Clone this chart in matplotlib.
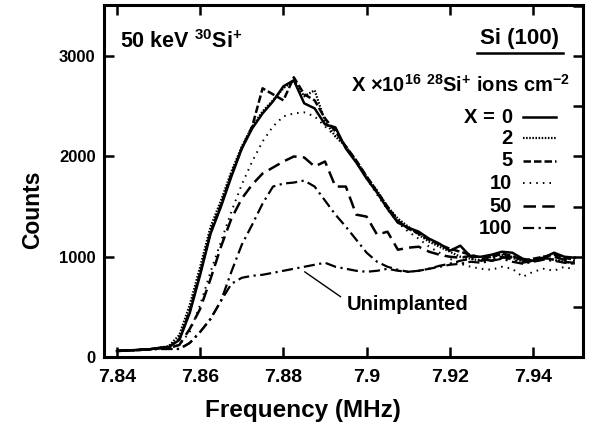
import matplotlib
matplotlib.use("Agg")
import matplotlib.pyplot as plt
import numpy as np

plt.rcParams['font.family'] = ['Liberation Sans', 'DejaVu Sans']
plt.rcParams['font.weight'] = 'bold'
plt.rcParams['mathtext.fontset'] = 'custom'
plt.rcParams['mathtext.rm'] = 'Liberation Sans:bold'
plt.rcParams['mathtext.it'] = 'Liberation Sans:bold'
plt.rcParams['mathtext.bf'] = 'Liberation Sans:bold'

freq = [7.840, 7.8425, 7.845, 7.8475, 7.850, 7.8525, 7.855, 7.8575, 7.860, 7.8625,
        7.865, 7.8675, 7.870, 7.8725, 7.875, 7.8775, 7.880, 7.8825, 7.885, 7.8875,
        7.890, 7.8925, 7.895, 7.8975, 7.900, 7.9025, 7.905, 7.9075, 7.910, 7.9125,
        7.915, 7.9175, 7.920, 7.9225, 7.925, 7.9275, 7.930, 7.9325, 7.935, 7.9375,
        7.940, 7.9425, 7.945, 7.9475, 7.950]

x0 = [60, 65, 70, 75, 90, 100, 170, 440, 820, 1230,
      1500, 1800, 2080, 2280, 2430, 2550, 2700, 2760, 2530, 2480,
      2320, 2290, 2080, 1940, 1780, 1640, 1480, 1340, 1290, 1250,
      1180, 1130, 1060, 1110, 1000, 1000, 1020, 1050, 1040, 980,
      960, 990, 1040, 1000, 990]
x2 = [60, 65, 70, 75, 90, 110, 220, 520, 900, 1300,
      1560, 1850, 2100, 2300, 2450, 2560, 2680, 2760, 2600, 2660,
      2350, 2200, 2100, 1960, 1800, 1660, 1500, 1380, 1300, 1220,
      1150, 1100, 1050, 1000, 980, 960, 1000, 1020, 990, 950,
      960, 1000, 970, 950, 930]
x5 = [60, 65, 70, 75, 90, 100, 180, 460, 840, 1250,
      1520, 1820, 2080, 2300, 2680, 2620, 2560, 2790, 2620, 2560,
      2380, 2250, 2100, 1960, 1800, 1650, 1500, 1360, 1280, 1230,
      1170, 1120, 1080, 1050, 1020, 990, 1000, 1030, 1010, 960,
      980, 1000, 1020, 990, 970]
x10 = [60, 65, 70, 75, 85, 95, 120, 250, 520, 850,
       1150, 1450, 1720, 1950, 2150, 2300, 2400, 2430, 2440, 2400,
       2300, 2200, 2100, 1950, 1780, 1620, 1470, 1340, 1250, 1180,
       1100, 1040, 980, 930, 900, 880, 870, 900, 880, 800,
       850, 880, 860, 900, 870]
x50 = [60, 65, 70, 75, 85, 90, 120, 280, 480, 780,
       1100, 1380, 1580, 1720, 1830, 1890, 1950, 2000, 1990, 1900,
       1950, 1700, 1700, 1420, 1400, 1220, 1250, 1070, 1090, 1100,
       1050, 1020, 1000, 990, 1010, 980, 960, 990, 1000, 970,
       950, 980, 1000, 970, 960]
x100 = [60, 65, 70, 75, 80, 80, 80, 140, 250, 380,
        560, 850, 1120, 1320, 1530, 1700, 1730, 1740, 1760, 1700,
        1560, 1420, 1300, 1170, 1040, 950, 900, 870, 850, 860,
        880, 900, 920, 930, 950, 940, 960, 980, 950, 930,
        950, 970, 960, 940, 930]
unimpl = [60, 65, 70, 75, 80, 80, 80, 140, 250, 380,
          560, 730, 790, 810, 820, 840, 860, 880, 900, 920,
          940, 900, 880, 860, 850, 860, 880, 860, 850, 860,
          880, 910, 930, 960, 980, 960, 980, 1000, 970, 940,
          960, 990, 970, 950, 940]

labels = ['0', '2', '5', '10', '50', '100']
series = [x0, x2, x5, x10, x50, x100]
styles = ['-', (0, (0.7, 0.7)), (0, (3, 1.2)), (0, (0.8, 2.6)), (0, (5, 2.5)), (0, (5, 2, 1, 2))]
widths = [1.8, 1.6, 1.8, 1.4, 1.8, 1.6]

xticks = [7.84, 7.86, 7.88, 7.90, 7.92, 7.94]
xticklabels = ['7.84', '7.86', '7.88', '7.9', '7.92', '7.94']
yticks = [0, 1000, 2000, 3000]

fig = plt.figure(figsize=(5.95, 4.25), dpi=100)
ax = fig.add_axes([0.1748, 0.16, 0.8052, 0.828])

for vals, ls, lw in zip(series, styles, widths):
    ax.plot(freq, vals, color='black', linestyle=ls, linewidth=lw)
ax.plot(freq, unimpl, color='black', linestyle=(0, (5, 2, 1, 2)), linewidth=1.6)

ax.set_xlim(7.8369, 7.952)
ax.set_ylim(0, 3510)
ax.set_xticks(xticks)
ax.set_xticklabels(xticklabels)
ax.set_yticks(yticks)
ax.tick_params(axis='both', direction='in', length=7, width=1.8)
ax.tick_params(axis='x', labelsize=14, pad=9)
ax.tick_params(axis='y', labelsize=12, pad=6)
for s in ax.spines.values():
    s.set_linewidth(2.2)

top = ax.secondary_xaxis('top')
top.set_xticks(xticks)
top.tick_params(direction='in', length=7, width=1.8, labeltop=False)
right = ax.secondary_yaxis('right')
right.set_yticks(np.arange(0, 3501, 500))
right.tick_params(direction='in', length=7, width=1.8, labelright=False)

ax.set_xlabel('Frequency (MHz)', fontsize=17.5, fontweight='bold')
ax.xaxis.set_label_coords(0.415, -0.118)
ax.set_ylabel('Counts', fontsize=16.5, fontweight='bold')
ax.yaxis.set_label_coords(-0.125, 0.418)

ax.text(0.033, 0.895, r'50 keV $^{30}$Si$^{+}$', transform=ax.transAxes,
        fontsize=15.5, fontweight='bold', va='center', ha='left')
ax.text(0.867, 0.906, 'Si (100)', transform=ax.transAxes,
        fontsize=16, fontweight='bold', va='center', ha='center')
ax.plot([0.779, 0.958], [0.864, 0.864], transform=ax.transAxes, color='black', lw=1.8)
ax.text(0.973, 0.773, r'X $\times$10$^{16}$ $^{28}$Si$^{+}$ ions cm$^{-2}$', transform=ax.transAxes,
        fontsize=14.5, fontweight='bold', va='center', ha='right')

row_y = [0.682, 0.621, 0.557, 0.494, 0.429, 0.366]
for lab, ls, lw, yy in zip(labels, styles, widths, row_y):
    ax.text(0.852, yy, lab, transform=ax.transAxes, fontsize=14.5, fontweight='bold',
            va='center', ha='right')
    ax.plot([0.875, 0.944], [yy, yy], transform=ax.transAxes, color='black',
            linestyle=ls, linewidth=lw)
ax.text(0.815, row_y[0], 'X =', transform=ax.transAxes, fontsize=14.5, fontweight='bold',
        va='center', ha='right')

ax.annotate('Unimplanted', xy=(7.8851, 850), xytext=(0.507, 0.148),
            textcoords='axes fraction', fontsize=14.5, fontweight='bold',
            va='center', ha='left',
            arrowprops=dict(arrowstyle='-', color='black', lw=1.0,
                            relpos=(0, 0.7), shrinkA=3, shrinkB=0))

fig.savefig('out.png', dpi=100)
